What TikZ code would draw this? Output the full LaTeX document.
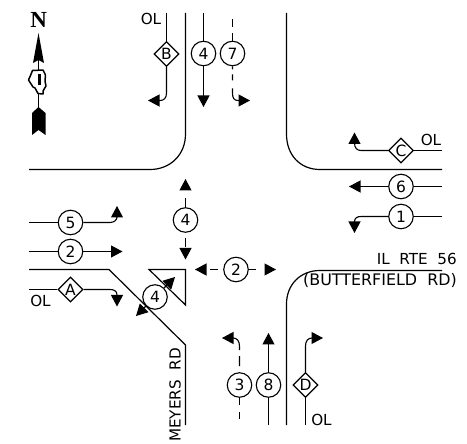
\documentclass[tikz,border=0pt]{standalone}
\usepackage{fontspec}
\setmainfont{DejaVu Sans}
\newfontfamily\nfont{Liberation Serif}[Scale=1]
\usetikzlibrary{arrows.meta,shapes.geometric,calc}
\tikzset{
  road/.style={line width=1.2pt,black},
  lane/.style={line width=1.1pt,black,-{Triangle[length=11.5pt,width=12pt]}},
  plainlane/.style={line width=1.1pt,black},
  dlane/.style={line width=1.1pt,black,dash pattern=on 8pt off 6pt},
  sig/.style={circle,draw,line width=1.1pt,fill=white,minimum size=24.5pt,inner sep=0pt,font=\fontsize{15.5}{15.5}\selectfont},
  ovl/.style={diamond,draw,line width=1.1pt,fill=white,minimum width=25pt,minimum height=25pt,inner sep=0pt,font=\fontsize{15.5}{15.5}\selectfont},
  lab/.style={inner sep=0pt,font=\fontsize{15.2}{15.2}\selectfont}
}
\begin{document}
\begin{tikzpicture}[x=1pt,y=-1pt]
\useasboundingbox (0,0) rectangle (467,444);
% curbs
\draw[road] (185.5,13) -- (185.5,134) .. controls (185.5,155) and (170,169.5) .. (150,169.5) -- (29,169.5);
\draw[road] (286.5,13) -- (286.5,134) .. controls (286.5,155) and (300,169.5) .. (320,169.5) -- (442,169.5);
\draw[road] (442,270.5) -- (320,270.5) .. controls (300,270.5) and (286.5,285) .. (286.5,304) -- (286.5,425);
\draw[road] (29,269.5) -- (109,269.5) -- (185.5,345) -- (185.5,425);
\draw[road] (149,269.5) -- (185.5,269.5) -- (185.5,305) -- cycle;
% signal nodes
\node[sig] (s4t) at (203.5,53.5) {4};
\node[sig] (s7) at (232.5,53.5) {7};
\node[ovl] (B) at (166.5,54) {\raisebox{-1pt}{B}};
\node[ovl] (C) at (401,150.5) {\raisebox{-1pt}{C}};
\node[sig] (s6) at (401,186.5) {6};
\node[sig] (s1) at (401,216.5) {1};
\node[sig] (s5) at (70.5,222.5) {5};
\node[sig] (s2w) at (70.5,251.5) {2};
\node[ovl] (A) at (70.5,289.5) {\raisebox{-1pt}{A}};
\node[sig] (s4c) at (185.5,220) {4};
\node[sig] (s2c) at (236,269.5) {2};
\node[sig] (s4d) at (155,297) {4};
\node[sig] (s3) at (239.5,385) {3};
\node[sig] (s8) at (268.5,385) {8};
\node[ovl] (D) at (305.5,385) {\raisebox{-1pt}{D}};
% free ends
\coordinate (Bt) at (166.5,13);
\coordinate (s4tt) at (203.5,13);
\coordinate (s7t) at (232.5,18);
\coordinate (Cr) at (442,150.5);
\coordinate (s6r) at (442,186.5);
\coordinate (s1r) at (442,216.5);
\coordinate (s5l) at (29,222.5);
\coordinate (s2l) at (29,251.5);
\coordinate (Al) at (29,289.5);
\coordinate (s3b) at (239.5,420);
\coordinate (s8b) at (268.5,425);
\coordinate (Db) at (305.5,425);
% plain lane ends
\draw[plainlane] (Bt) -- (B);
\draw[plainlane] (s4tt) -- (s4t);
\draw[dlane] (s7) -- (s7t);
\draw[plainlane] (Cr) -- (C);
\draw[plainlane] (s6r) -- (s6);
\draw[plainlane] (s1r) -- (s1);
\draw[plainlane] (s5l) -- (s5);
\draw[plainlane] (s2l) -- (s2w);
\draw[plainlane] (Al) -- (A);
\draw[plainlane] (s8b) -- (s8);
\draw[plainlane] (Db) -- (D);
\draw[line width=1.1pt,dash pattern=on 7pt off 7.5pt] (s3) -- (s3b);
% arrows
\draw[lane] (B) -- (166.5,93) .. controls (166.5,98) and (164,100.5) .. (160,100.5) -- (148,100.5);
\draw[lane] (s4t) -- (203.5,107);
\draw[lane,dash pattern=on 3pt off 5pt on 6pt off 8pt on 40pt off 1pt] (s7) -- (232.5,93) .. controls (232.5,98) and (234,100.5) .. (238,100.5) -- (250,100.5);
\draw[lane] (C) -- (361,150.5) .. controls (357,150.5) and (354.5,148) .. (354.5,143) -- (354.5,132.5);
\draw[lane] (s6) -- (349,186.5);
\draw[lane] (s1) -- (361,216.5) .. controls (357,216.5) and (354.5,218) .. (354.5,222) -- (354.5,233);
\draw[lane] (s5) -- (110,222.5) .. controls (114,222.5) and (117,220) .. (117,217) -- (117,206);
\draw[lane] (s2w) -- (122.5,251.5);
\draw[lane] (A) -- (110,289.5) .. controls (114,289.5) and (117,291) .. (117,295) -- (117,306.5);
\draw[lane,dash pattern=on 9pt off 9pt] (s4c) -- (185.5,179);
\draw[lane,dash pattern=on 9pt off 5pt,dash phase=9pt] (s4c) -- (185.5,259.5);
\draw[lane,dash pattern=on 8pt off 5pt,dash phase=8pt] (s2c) -- (195,269.5);
\draw[lane,dash pattern=on 7pt off 9pt] (s2c) -- (276,269.5);
\draw[lane] (s4d) -- (175,277);
\draw[lane] (s4d) -- (136,316);
\draw[lane,dash pattern=on 30pt off 6pt on 10pt off 6pt,dash phase=30pt] (s3) -- (239.5,346) .. controls (239.5,341) and (237,338) .. (233,338) -- (222,338);
\draw[lane] (s8) -- (268.5,333);
\draw[lane] (D) -- (305.5,346) .. controls (305.5,341) and (308,338) .. (312,338) -- (323,338);
% labels
\node[lab] (olb) at (151,19) {OL};
\node[lab] (olc) at (431,139.5) {OL};
\node[lab] (ola) at (40.5,300.5) {OL};
\node[lab] (old) at (321.5,420) {OL};
\node[lab,anchor=east] (il) at (457,259) {IL\ \ RTE\ \ 56};
\node[lab,anchor=east,font=\fontsize{15.9}{15.9}\selectfont] (bf) at (457,281) {(BUTTERFIELD\ \ RD)};
\node[lab,rotate=90,anchor=west] (my) at (175,442) {MEYERS\ \ RD};
% north arrow
\node[inner sep=0pt,font=\nfont\bfseries\fontsize{23}{23}\selectfont] (N) at (38.8,19.5) {N};
\draw[line width=1.2pt] (38.5,60) -- (38.5,110);
\fill (38.5,33) -- (44,63) -- (38.5,60) -- (33,63) -- cycle;
\fill (38.5,107) -- (45.5,113) -- (45.5,135) -- (38.5,130) -- (32,135) -- (32,113) -- cycle;
\draw[line width=1.5pt,fill=white,line join=round] (32.5,70.5) -- (43,70) -- (45.5,75) -- (45,81) -- (46,86) -- (43,91) -- (43,94) -- (38,93.5) -- (35,88) -- (33,87) -- (28.5,80) -- (30.5,75.5) -- cycle;
\fill (38.3,74) rectangle (41,85.5);
\end{tikzpicture}
\end{document}
